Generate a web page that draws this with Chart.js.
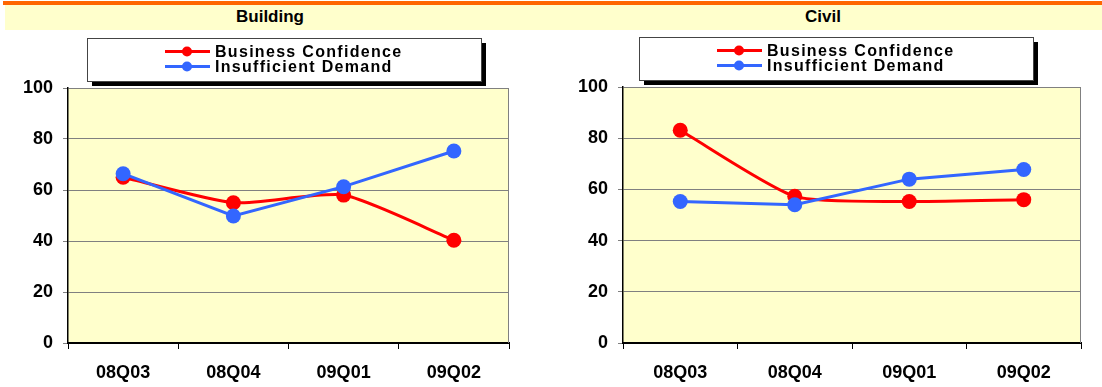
<!DOCTYPE html>
<html>
<head>
<meta charset="utf-8">
<script src="https://cdn.jsdelivr.net/npm/chart.js@4.4.1/dist/chart.umd.min.js"></script>
<style>
  body { margin: 0; width: 1102px; height: 387px; background: #fff; position: relative; overflow: hidden;
         font-family: "Liberation Sans", Arial, sans-serif; }
  #topbar { position: absolute; left: 3px; top: 1px; width: 1099px; height: 4px; background: #ff6600; }
  #head { position: absolute; left: 5px; top: 5px; width: 1097px; height: 25px; background: #ffffcc; }
  .ttl { position: absolute; top: 8px; font-weight: bold; font-size: 17px; line-height: 18px; transform: translateX(-50%); color: #000; }
  .box { position: absolute; top: 30px; width: 551px; height: 357px; }
</style>
</head>
<body>
<div id="topbar"></div>
<div id="head"></div>
<div class="ttl" style="left:270px">Building</div>
<div class="ttl" style="left:823px">Civil</div>
<div class="box" style="left:0"><canvas id="building" width="551" height="357"></canvas></div>
<div class="box" style="left:551px"><canvas id="civil" width="551" height="357"></canvas></div>
<script>
const quarters = ['08Q03', '08Q04', '09Q01', '09Q02'];
const yTicks = [0, 20, 40, 60, 80, 100];
const seriesNames = ['Business Confidence', 'Insufficient Demand'];
const buildingConfidence = [65, 55, 58, 40.3];
const buildingDemand = [66.4, 49.8, 61.3, 75.3];
const civilConfidence = [83.1, 57.3, 55.3, 56];
const civilDemand = [55.3, 54, 64, 67.8];

const FONT = '"Liberation Sans", Arial, sans-serif';
const RED = '#ff0000';
const BLUE = '#3366ff';

// plot background, right border and the boxed legend with its shadow
const framePlugin = {
  id: 'frame',
  beforeDraw(chart) {
    const { ctx, chartArea: a } = chart;
    ctx.save();
    ctx.fillStyle = '#ffffcc';
    ctx.fillRect(a.left, a.top, a.right - a.left, a.bottom - a.top);
    ctx.restore();
  },
  afterDraw(chart, args, opts) {
    const { ctx, chartArea: a } = chart;
    ctx.save();
    ctx.strokeStyle = '#808080';
    ctx.lineWidth = 1;
    ctx.beginPath();
    ctx.moveTo(a.right - 0.5, a.top);
    ctx.lineTo(a.right - 0.5, a.bottom);
    ctx.stroke();

    const b = opts.box;
    ctx.fillStyle = '#000';
    ctx.fillRect(b.x + 5, b.y + 5, b.w, b.h);
    ctx.fillStyle = '#fff';
    ctx.fillRect(b.x, b.y, b.w, b.h);
    ctx.strokeStyle = '#444';
    ctx.strokeRect(b.x + 0.5, b.y + 0.5, b.w, b.h);

    ctx.font = 'bold 16px ' + FONT;
    ctx.letterSpacing = '1.3px';
    ctx.textBaseline = 'middle';
    chart.data.datasets.forEach((ds, i) => {
      const y = b.y + 13.5 + i * 15;
      ctx.strokeStyle = ds.borderColor;
      ctx.lineWidth = 3;
      ctx.beginPath();
      ctx.moveTo(b.x + 78, y);
      ctx.lineTo(b.x + 123, y);
      ctx.stroke();
      ctx.fillStyle = ds.borderColor;
      ctx.beginPath();
      ctx.arc(b.x + 100, y, 5, 0, Math.PI * 2);
      ctx.fill();
      ctx.fillStyle = '#000';
      ctx.fillText(ds.label, b.x + 128, y + 1);
    });
    ctx.restore();
  }
};

function makeChart(id, confidence, demand, layout) {
  const series = (label, data, color, tension, order) => ({
    label, data, order, tension,
    borderColor: color, backgroundColor: color,
    pointBackgroundColor: color, pointBorderWidth: 0,
    borderWidth: 3, pointRadius: 7.5, pointHoverRadius: 7.5
  });
  return new Chart(document.getElementById(id), {
    type: 'line',
    data: {
      labels: quarters,
      datasets: [
        series(seriesNames[0], confidence, RED, 0.2, 2),
        series(seriesNames[1], demand, BLUE, 0, 1)
      ]
    },
    options: {
      responsive: false,
      animation: false,
      layout: { padding: { top: layout.top, right: layout.right, left: 0, bottom: 0 } },
      scales: {
        x: {
          offset: true,
          grid: { offset: true, drawOnChartArea: false, tickLength: 6, color: '#000', lineWidth: 1 },
          border: { color: '#000', width: 2 },
          ticks: { color: '#000', font: { family: FONT, size: 18, weight: 'bold' }, padding: 13, maxRotation: 0 },
          afterFit: s => { s.height = 44; }
        },
        y: {
          min: 0, max: 100,
          afterBuildTicks: s => { s.ticks = yTicks.map(v => ({ value: v })); },
          grid: { color: '#808080', lineWidth: 1, tickLength: 5, tickColor: '#808080' },
          border: { color: '#000', width: 1.5 },
          ticks: { color: '#000', font: { family: FONT, size: 18, weight: 'bold' }, padding: 10 },
          afterFit: s => { s.width = layout.left; }
        }
      },
      plugins: {
        legend: { display: false },
        tooltip: { enabled: false },
        frame: { box: layout.box }
      }
    },
    plugins: [framePlugin]
  });
}

makeChart('building', buildingConfidence, buildingDemand,
  { left: 68, right: 42, top: 58, box: { x: 87, y: 8, w: 394, h: 43 } });
makeChart('civil', civilConfidence, civilDemand,
  { left: 72, right: 21, top: 57, box: { x: 88, y: 7, w: 394, h: 43 } });
</script>
</body>
</html>
